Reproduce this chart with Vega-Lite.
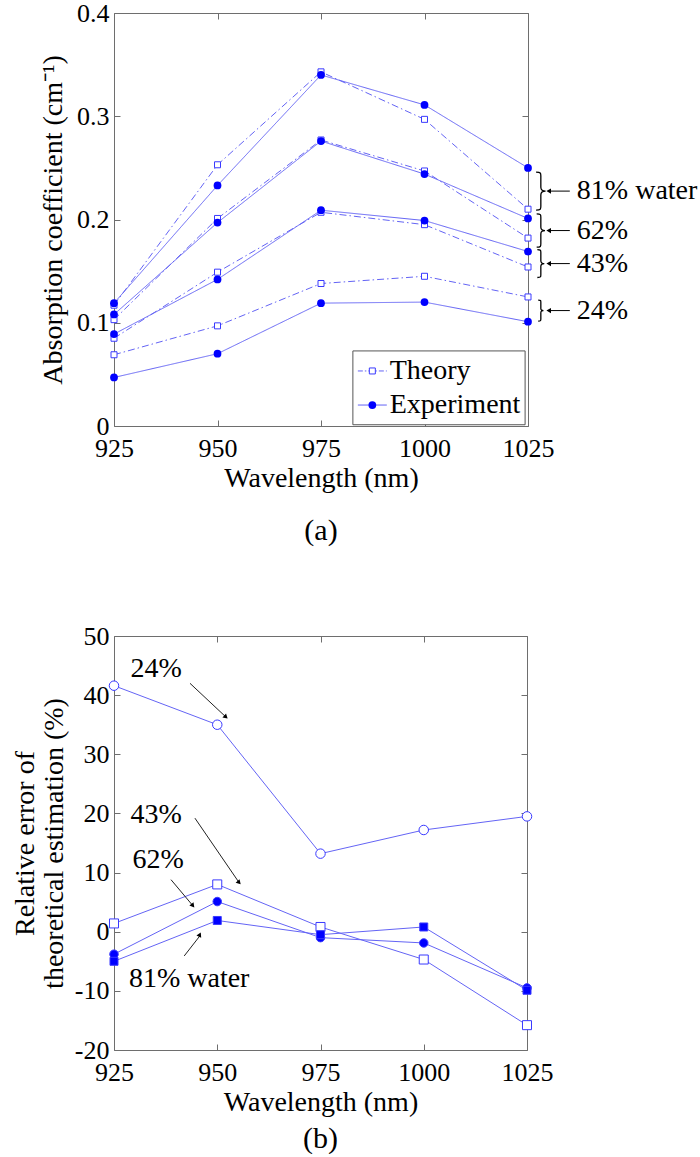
{
  "$schema": "https://vega.github.io/schema/vega-lite/v6.json",
  "padding": {"left": 11, "top": 0, "right": 0, "bottom": 0},
  "background": "white",
  "config": {
    "font": "Liberation Serif",
    "view": {"stroke": null},
    "axis": {
      "grid": false,
      "domainColor": "#6e6e6e",
      "tickColor": "#6e6e6e",
      "labelColor": "#000000",
      "titleColor": "#000000",
      "labelFont": "Liberation Serif",
      "titleFont": "Liberation Serif",
      "labelFontSize": 26,
      "titleFontSize": 28,
      "titleFontWeight": "normal",
      "tickSize": -6,
      "labelPadding": 11,
      "labelFlush": false,
      "labelOverlap": false,
      "titlePadding": 4
    },
    "axisBottom": {"labelPadding": 15, "labelFontSize": 26, "titlePadding": 3},
    "title": {"font": "Liberation Serif", "fontSize": 30, "fontWeight": "normal", "color": "#000000"}
  },
  "datasets": {
    "absorption": [
      {"wavelength": 925, "group": "81%", "type": "Theory", "value": 0.117},
      {"wavelength": 950, "group": "81%", "type": "Theory", "value": 0.253},
      {"wavelength": 975, "group": "81%", "type": "Theory", "value": 0.343},
      {"wavelength": 1000, "group": "81%", "type": "Theory", "value": 0.297},
      {"wavelength": 1025, "group": "81%", "type": "Theory", "value": 0.210},
      {"wavelength": 925, "group": "81%", "type": "Experiment", "value": 0.119},
      {"wavelength": 950, "group": "81%", "type": "Experiment", "value": 0.233},
      {"wavelength": 975, "group": "81%", "type": "Experiment", "value": 0.340},
      {"wavelength": 1000, "group": "81%", "type": "Experiment", "value": 0.311},
      {"wavelength": 1025, "group": "81%", "type": "Experiment", "value": 0.250},
      {"wavelength": 925, "group": "62%", "type": "Theory", "value": 0.103},
      {"wavelength": 950, "group": "62%", "type": "Theory", "value": 0.201},
      {"wavelength": 975, "group": "62%", "type": "Theory", "value": 0.277},
      {"wavelength": 1000, "group": "62%", "type": "Theory", "value": 0.247},
      {"wavelength": 1025, "group": "62%", "type": "Theory", "value": 0.182},
      {"wavelength": 925, "group": "62%", "type": "Experiment", "value": 0.108},
      {"wavelength": 950, "group": "62%", "type": "Experiment", "value": 0.197},
      {"wavelength": 975, "group": "62%", "type": "Experiment", "value": 0.276},
      {"wavelength": 1000, "group": "62%", "type": "Experiment", "value": 0.244},
      {"wavelength": 1025, "group": "62%", "type": "Experiment", "value": 0.201},
      {"wavelength": 925, "group": "43%", "type": "Theory", "value": 0.085},
      {"wavelength": 950, "group": "43%", "type": "Theory", "value": 0.149},
      {"wavelength": 975, "group": "43%", "type": "Theory", "value": 0.207},
      {"wavelength": 1000, "group": "43%", "type": "Theory", "value": 0.195},
      {"wavelength": 1025, "group": "43%", "type": "Theory", "value": 0.154},
      {"wavelength": 925, "group": "43%", "type": "Experiment", "value": 0.089},
      {"wavelength": 950, "group": "43%", "type": "Experiment", "value": 0.142},
      {"wavelength": 975, "group": "43%", "type": "Experiment", "value": 0.209},
      {"wavelength": 1000, "group": "43%", "type": "Experiment", "value": 0.199},
      {"wavelength": 1025, "group": "43%", "type": "Experiment", "value": 0.169},
      {"wavelength": 925, "group": "24%", "type": "Theory", "value": 0.069},
      {"wavelength": 950, "group": "24%", "type": "Theory", "value": 0.097},
      {"wavelength": 975, "group": "24%", "type": "Theory", "value": 0.138},
      {"wavelength": 1000, "group": "24%", "type": "Theory", "value": 0.145},
      {"wavelength": 1025, "group": "24%", "type": "Theory", "value": 0.125},
      {"wavelength": 925, "group": "24%", "type": "Experiment", "value": 0.047},
      {"wavelength": 950, "group": "24%", "type": "Experiment", "value": 0.070},
      {"wavelength": 975, "group": "24%", "type": "Experiment", "value": 0.119},
      {"wavelength": 1000, "group": "24%", "type": "Experiment", "value": 0.120},
      {"wavelength": 1025, "group": "24%", "type": "Experiment", "value": 0.101}
    ],
    "annA": [
      {"label": "81% water", "value": 0.2275},
      {"label": "62%", "value": 0.1893},
      {"label": "43%", "value": 0.1573},
      {"label": "24%", "value": 0.1118}
    ],
    "legendTheory": [{"type": "Theory"}],
    "legendExperiment": [{"type": "Experiment"}],
    "relerr": [
      {"wavelength": 925, "group": "24%", "value": 41.6},
      {"wavelength": 950, "group": "24%", "value": 35.0},
      {"wavelength": 975, "group": "24%", "value": 13.2},
      {"wavelength": 1000, "group": "24%", "value": 17.2},
      {"wavelength": 1025, "group": "24%", "value": 19.5},
      {"wavelength": 925, "group": "43%", "value": 1.4},
      {"wavelength": 950, "group": "43%", "value": 8.0},
      {"wavelength": 975, "group": "43%", "value": 0.8},
      {"wavelength": 1000, "group": "43%", "value": -4.7},
      {"wavelength": 1025, "group": "43%", "value": -15.8},
      {"wavelength": 925, "group": "62%", "value": -3.8},
      {"wavelength": 950, "group": "62%", "value": 5.1},
      {"wavelength": 975, "group": "62%", "value": -1.0},
      {"wavelength": 1000, "group": "62%", "value": -1.9},
      {"wavelength": 1025, "group": "62%", "value": -9.5},
      {"wavelength": 925, "group": "81%", "value": -5.0},
      {"wavelength": 950, "group": "81%", "value": 1.9},
      {"wavelength": 975, "group": "81%", "value": -0.5},
      {"wavelength": 1000, "group": "81%", "value": 0.8},
      {"wavelength": 1025, "group": "81%", "value": -9.9}
    ],
    "annB": [
      {"label": "24%", "tx": 935.2, "ty": 44.4, "x1": 943.4, "y1": 42.0, "x2": 952.1, "y2": 36.3},
      {"label": "43%", "tx": 935.2, "ty": 19.8, "x1": 944.6, "y1": 19.2, "x2": 955.3, "y2": 8.3},
      {"label": "62%", "tx": 935.7, "ty": 12.2, "x1": 938.8, "y1": 8.8, "x2": 944.1, "y2": 4.4},
      {"label": "81% water", "tx": 943.2, "ty": -8.0, "x1": 942.0, "y1": -4.1, "x2": 945.8, "y2": -0.7}
    ]
  },
  "bounds": "flush",
  "spacing": 210,
  "resolve": {
    "scale": {"size": "independent", "shape": "independent", "fill": "independent", "angle": "independent", "strokeDash": "independent", "x": "independent", "y": "independent"},
    "legend": {"strokeDash": "independent", "size": "independent", "shape": "independent", "fill": "independent", "angle": "independent"}
  },
  "vconcat": [
    {
      "width": 414,
      "height": 413,
      "title": {"text": "(a)", "orient": "bottom", "offset": 24},
      "resolve": {"axis": {"x": "independent", "y": "independent"}},
      "layer": [
        {
          "data": {"name": "absorption"},
          "mark": {"type": "line", "color": "#6464f5", "strokeWidth": 1},
          "encoding": {
            "x": {"field": "wavelength", "type": "quantitative", "scale": {"domain": [925, 1025], "nice": false, "zero": false},
                  "axis": {"values": [925, 950, 975, 1000, 1025], "format": "d", "title": "Wavelength (nm)"}},
            "y": {"field": "value", "type": "quantitative", "scale": {"domain": [0, 0.4], "nice": false},
                  "axis": {"values": [0, 0.1, 0.2, 0.3, 0.4], "format": "~g", "title": "Absorption coefficient (cm⁻¹)", "titlePadding": 9}},
            "detail": {"field": "group"},
            "strokeDash": {
              "field": "type", "type": "nominal",
              "scale": {"domain": ["Theory", "Experiment"], "range": [[7, 3, 1.5, 3], [1, 0]]},
              "legend": null
            }
          }
        },
        {
          "data": {"name": "absorption"},
          "transform": [{"filter": "datum.type === 'Theory'"}],
          "mark": {"type": "point", "shape": "square", "filled": true, "fill": "white", "stroke": "#3a3aff", "strokeWidth": 1, "size": 36, "opacity": 1},
          "encoding": {
            "x": {"field": "wavelength", "type": "quantitative", "scale": {"domain": [925, 1025], "nice": false, "zero": false},
                  "axis": {"orient": "top", "labels": false, "title": null, "values": [925, 950, 975, 1000, 1025]}},
            "y": {"field": "value", "type": "quantitative", "scale": {"domain": [0, 0.4], "nice": false},
                  "axis": {"orient": "right", "labels": false, "title": null, "values": [0, 0.1, 0.2, 0.3, 0.4]}}
          }
        },
        {
          "data": {"name": "absorption"},
          "transform": [{"filter": "datum.type === 'Experiment'"}],
          "mark": {"type": "point", "shape": "circle", "filled": true, "color": "#0000ff", "size": 60, "opacity": 1},
          "encoding": {
            "x": {"field": "wavelength", "type": "quantitative", "scale": {"domain": [925, 1025], "nice": false, "zero": false}, "axis": null},
            "y": {"field": "value", "type": "quantitative", "scale": {"domain": [0, 0.4], "nice": false}, "axis": null}
          }
        },
        {
          "data": {"name": "legendTheory"},
          "mark": {"type": "rect", "fill": "white", "stroke": "#555555", "strokeWidth": 1},
          "encoding": {
            "x": {"datum": 982.7, "type": "quantitative", "scale": {"domain": [925, 1025], "nice": false, "zero": false}, "axis": null},
            "x2": {"datum": 1024.3},
            "y": {"datum": 0.0012, "type": "quantitative", "scale": {"domain": [0, 0.4], "nice": false}, "axis": null},
            "y2": {"datum": 0.0727}
          }
        },
        {
          "data": {"name": "legendTheory"},
          "mark": {"type": "rule", "color": "#6464f5", "strokeWidth": 1, "strokeDash": [5, 2, 1.5, 2]},
          "encoding": {
            "x": {"datum": 983.9, "type": "quantitative", "scale": {"domain": [925, 1025], "nice": false, "zero": false}, "axis": null},
            "x2": {"datum": 990.9},
            "y": {"datum": 0.0533, "type": "quantitative", "scale": {"domain": [0, 0.4], "nice": false}, "axis": null}
          }
        },
        {
          "data": {"name": "legendTheory"},
          "mark": {"type": "point", "shape": "square", "filled": true, "fill": "white", "stroke": "#3a3aff", "strokeWidth": 1, "size": 36, "opacity": 1},
          "encoding": {
            "x": {"datum": 987.4, "type": "quantitative", "scale": {"domain": [925, 1025], "nice": false, "zero": false}, "axis": null},
            "y": {"datum": 0.0533, "type": "quantitative", "scale": {"domain": [0, 0.4], "nice": false}, "axis": null}
          }
        },
        {
          "data": {"name": "legendTheory"},
          "mark": {"type": "text", "align": "left", "baseline": "middle", "fontSize": 28, "font": "Liberation Serif", "color": "#000000"},
          "encoding": {
            "x": {"datum": 991.6, "type": "quantitative", "scale": {"domain": [925, 1025], "nice": false, "zero": false}, "axis": null},
            "y": {"datum": 0.0533, "type": "quantitative", "scale": {"domain": [0, 0.4], "nice": false}, "axis": null},
            "text": {"field": "type"}
          }
        },
        {
          "data": {"name": "legendExperiment"},
          "mark": {"type": "rule", "color": "#6464f5", "strokeWidth": 1},
          "encoding": {
            "x": {"datum": 983.9, "type": "quantitative", "scale": {"domain": [925, 1025], "nice": false, "zero": false}, "axis": null},
            "x2": {"datum": 990.9},
            "y": {"datum": 0.0203, "type": "quantitative", "scale": {"domain": [0, 0.4], "nice": false}, "axis": null}
          }
        },
        {
          "data": {"name": "legendExperiment"},
          "mark": {"type": "point", "shape": "circle", "filled": true, "color": "#0000ff", "size": 60, "opacity": 1},
          "encoding": {
            "x": {"datum": 987.4, "type": "quantitative", "scale": {"domain": [925, 1025], "nice": false, "zero": false}, "axis": null},
            "y": {"datum": 0.0203, "type": "quantitative", "scale": {"domain": [0, 0.4], "nice": false}, "axis": null}
          }
        },
        {
          "data": {"name": "legendExperiment"},
          "mark": {"type": "text", "align": "left", "baseline": "middle", "fontSize": 28, "font": "Liberation Serif", "color": "#000000"},
          "encoding": {
            "x": {"datum": 991.6, "type": "quantitative", "scale": {"domain": [925, 1025], "nice": false, "zero": false}, "axis": null},
            "y": {"datum": 0.0203, "type": "quantitative", "scale": {"domain": [0, 0.4], "nice": false}, "axis": null},
            "text": {"field": "type"}
          }
        },
        {
          "data": {"name": "annA"},
          "mark": {"type": "point", "shape": "M-0.25,-1C0,-1 0,-0.95 0,-0.8L0,-0.2C0,-0.06 0.1,0 0.25,0C0.1,0 0,0.06 0,0.2L0,0.8C0,0.95 0,1 -0.25,1", "filled": false, "stroke": "#000000", "strokeWidth": 1.3, "opacity": 1},
          "encoding": {
            "x": {"datum": 1028.1, "type": "quantitative", "scale": {"domain": [925, 1025], "nice": false, "zero": false}, "axis": null},
            "y": {"field": "value", "type": "quantitative", "scale": {"domain": [0, 0.4], "nice": false}, "axis": null},
            "size": {"field": "label", "type": "nominal", "legend": null,
                     "scale": {"domain": ["81% water", "62%", "43%", "24%"], "range": [1444, 441, 225, 625]}}
          }
        },
        {
          "data": {"name": "annA"},
          "mark": {"type": "rule", "color": "#000000", "strokeWidth": 1},
          "encoding": {
            "x": {"datum": 1035.1, "type": "quantitative", "scale": {"domain": [925, 1025], "nice": false, "zero": false}, "axis": null},
            "x2": {"datum": 1030.3},
            "y": {"field": "value", "type": "quantitative", "scale": {"domain": [0, 0.4], "nice": false}, "axis": null}
          }
        },
        {
          "data": {"name": "annA"},
          "mark": {"type": "point", "shape": "triangle-left", "filled": true, "color": "#000000", "size": 28, "opacity": 1},
          "encoding": {
            "x": {"datum": 1030.0, "type": "quantitative", "scale": {"domain": [925, 1025], "nice": false, "zero": false}, "axis": null},
            "y": {"field": "value", "type": "quantitative", "scale": {"domain": [0, 0.4], "nice": false}, "axis": null}
          }
        },
        {
          "data": {"name": "annA"},
          "mark": {"type": "text", "align": "left", "baseline": "middle", "fontSize": 28, "font": "Liberation Serif", "color": "#000000"},
          "encoding": {
            "x": {"datum": 1036.8, "type": "quantitative", "scale": {"domain": [925, 1025], "nice": false, "zero": false}, "axis": null},
            "y": {"field": "value", "type": "quantitative", "scale": {"domain": [0, 0.4], "nice": false}, "axis": null},
            "text": {"field": "label"}
          }
        }
      ]
    },
    {
      "width": 413,
      "height": 414,
      "title": {"text": "(b)", "orient": "bottom", "offset": 8},
      "resolve": {"axis": {"x": "independent", "y": "independent"}},
      "layer": [
        {
          "data": {"name": "relerr"},
          "mark": {"type": "line", "color": "#6464f5", "strokeWidth": 1},
          "encoding": {
            "x": {"field": "wavelength", "type": "quantitative", "scale": {"domain": [925, 1025], "nice": false, "zero": false},
                  "axis": {"values": [925, 950, 975, 1000, 1025], "format": "d", "title": "Wavelength (nm)"}},
            "y": {"field": "value", "type": "quantitative", "scale": {"domain": [-20, 50], "nice": false},
                  "axis": {"values": [-20, -10, 0, 10, 20, 30, 40, 50], "labelExpr": "datum.value < 0 ? '-' + abs(datum.value) : '' + datum.value",
                           "title": ["Relative error of", "theoretical estimation (%)"], "titleLineHeight": 29, "titlePadding": 6}},
            "detail": {"field": "group"}
          }
        },
        {
          "data": {"name": "relerr"},
          "mark": {"type": "point", "filled": true, "stroke": "#3a3aff", "strokeWidth": 1, "opacity": 1},
          "encoding": {
            "x": {"field": "wavelength", "type": "quantitative", "scale": {"domain": [925, 1025], "nice": false, "zero": false},
                  "axis": {"orient": "top", "labels": false, "title": null, "values": [925, 950, 975, 1000, 1025]}},
            "y": {"field": "value", "type": "quantitative", "scale": {"domain": [-20, 50], "nice": false},
                  "axis": {"orient": "right", "labels": false, "title": null, "values": [-20, -10, 0, 10, 20, 30, 40, 50]}},
            "shape": {"field": "group", "type": "nominal", "legend": null,
                      "scale": {"domain": ["24%", "43%", "62%", "81%"], "range": ["circle", "square", "circle", "square"]}},
            "fill": {"field": "group", "type": "nominal", "legend": null,
                     "scale": {"domain": ["24%", "43%", "62%", "81%"], "range": ["white", "white", "#0000ff", "#0000ff"]}},
            "size": {"field": "group", "type": "nominal", "legend": null,
                     "scale": {"domain": ["24%", "43%", "62%", "81%"], "range": [90, 64, 64, 50]}}
          }
        },
        {
          "data": {"name": "annB"},
          "mark": {"type": "rule", "color": "#222222", "strokeWidth": 1},
          "encoding": {
            "x": {"field": "x1", "type": "quantitative", "scale": {"domain": [925, 1025], "nice": false, "zero": false}, "axis": null},
            "y": {"field": "y1", "type": "quantitative", "scale": {"domain": [-20, 50], "nice": false}, "axis": null},
            "x2": {"field": "x2"},
            "y2": {"field": "y2"}
          }
        },
        {
          "data": {"name": "annB"},
          "mark": {"type": "point", "shape": "triangle-right", "filled": true, "color": "#000000", "size": 28, "opacity": 1},
          "encoding": {
            "x": {"field": "x2", "type": "quantitative", "scale": {"domain": [925, 1025], "nice": false, "zero": false}, "axis": null},
            "y": {"field": "y2", "type": "quantitative", "scale": {"domain": [-20, 50], "nice": false}, "axis": null},
            "angle": {"field": "label", "type": "nominal", "legend": null,
                      "scale": {"domain": ["24%", "43%", "62%", "81% water"], "range": [43, 55, 50, 309]}}
          }
        },
        {
          "data": {"name": "annB"},
          "mark": {"type": "text", "align": "center", "baseline": "middle", "fontSize": 28, "font": "Liberation Serif", "color": "#000000"},
          "encoding": {
            "x": {"field": "tx", "type": "quantitative", "scale": {"domain": [925, 1025], "nice": false, "zero": false}, "axis": null},
            "y": {"field": "ty", "type": "quantitative", "scale": {"domain": [-20, 50], "nice": false}, "axis": null},
            "text": {"field": "label"}
          }
        }
      ]
    }
  ]
}
